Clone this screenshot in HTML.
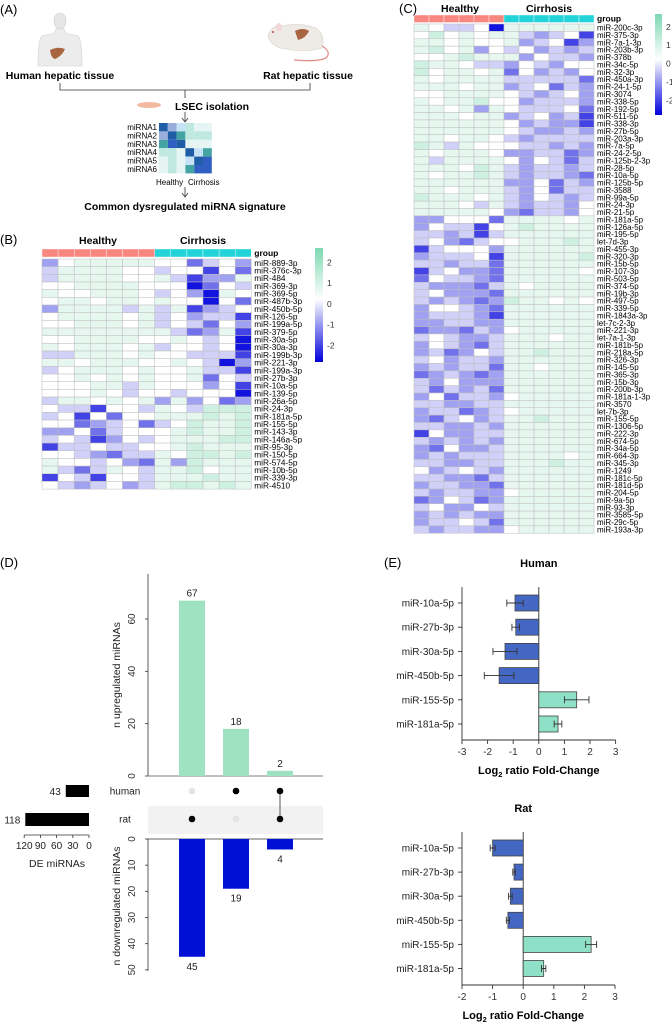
<!DOCTYPE html>
<html><head><meta charset="utf-8"><style>
html,body{margin:0;padding:0;background:#fff;}
svg{display:block;font-family:"Liberation Sans",Arial,sans-serif;}
</style></head><body>
<svg id="fig" width="672" height="1026" viewBox="0 0 672 1026" xmlns="http://www.w3.org/2000/svg">
<g>
<text x="0" y="14" font-size="13">(A)</text>
<g>
<ellipse cx="60" cy="21" rx="6" ry="8" fill="#e6e6e6" stroke="#cfcfcf" stroke-width="0.6"/>
<path d="M56 29 L64 29 L65 33 L78 36 Q82 40 82 66 L38 66 Q38 40 42 36 L55 33 Z" fill="#ececec" stroke="#cfcfcf" stroke-width="0.6"/>
<path d="M50 50 Q58 46 65 49 Q62 56 55 59 Q51 58 50 50 Z" fill="#a8653f"/>
</g>
<g>
<path d="M268 36 Q272 24 282 26 Q300 22 316 28 Q326 36 322 48 Q310 52 292 50 L280 48 Q270 44 268 36 Z" fill="#eeeae6" stroke="#d8d2cc" stroke-width="0.6"/>
<ellipse cx="279" cy="27" rx="3" ry="4" fill="#f4d8d8"/>
<circle cx="273" cy="32" r="1" fill="#c44"/>
<path d="M295 31 Q303 27 309 31 Q306 38 298 40 Z" fill="#a8653f"/>
<path d="M322 46 Q332 52 326 58 Q318 62 294 60" fill="none" stroke="#e0908a" stroke-width="1.3"/>
</g>
<text x="60" y="79" font-size="10.5" font-weight="bold" text-anchor="middle">Human hepatic tissue</text>
<text x="308" y="79" font-size="10.5" font-weight="bold" text-anchor="middle">Rat hepatic tissue</text>
<path d="M60 83 V90 H310 V83 M185 90 V98" fill="none" stroke="#333" stroke-width="0.8"/>
<ellipse cx="149" cy="105" rx="12" ry="3" fill="#f3b9a0"/>
<text x="175" y="110" font-size="10.5" font-weight="bold">LSEC isolation</text>
<path d="M185 112 V121 M182 118 L185 122 L188 118" fill="none" stroke="#333" stroke-width="0.8"/>
<g id="miniHeat"></g>
<text x="156" y="185" font-size="8">Healthy</text>
<text x="188" y="185" font-size="8">Cirrhosis</text>
<path d="M185 187 V196 M182 193 L185 197 L188 193" fill="none" stroke="#333" stroke-width="0.8"/>
<text x="185" y="210" font-size="10.5" font-weight="bold" text-anchor="middle">Common dysregulated miRNA signature</text>
</g>
<g>
<text x="0" y="244" font-size="13">(B)</text>
<text x="98" y="244" font-size="10.5" font-weight="bold" text-anchor="middle">Healthy</text>
<text x="203" y="244" font-size="10.5" font-weight="bold" text-anchor="middle">Cirrhosis</text>
<g id="heatB"></g>
</g>
<g>
<text x="399" y="13" font-size="13">(C)</text>
<text x="460" y="12" font-size="10.5" font-weight="bold" text-anchor="middle">Healthy</text>
<text x="549" y="12" font-size="10.5" font-weight="bold" text-anchor="middle">Cirrhosis</text>
<g id="heatC"></g>
</g>
<g id="panelD">
<text x="0" y="567" font-size="13">(D)</text>
</g>
<g id="panelE">
<text x="384" y="567" font-size="13">(E)</text>
</g>
</svg>
<script>
// ---------- data ----------
const bRows = ["miR-889-3p","miR-376c-3p","miR-484","miR-369-3p","miR-369-5p","miR-487b-3p","miR-450b-5p","miR-126-5p","miR-199a-5p","miR-379-5p","miR-30a-5p","miR-30a-3p","miR-199b-3p","miR-221-3p","miR-199a-3p","miR-27b-3p","miR-10a-5p","miR-139-5p","miR-26a-5p","miR-24-3p","miR-181a-5p","miR-155-5p","miR-143-3p","miR-146a-5p","miR-95-3p","miR-150-5p","miR-574-5p","miR-10b-5p","miR-339-3p","miR-4510"];
// encoded z-scores: value = (digit-5)*0.5
const bVals = ["3566666552453","4666655455152","4666655641336","5566665550254","6556665453065","5665665655052","3666646461345","5666656453441","5566656454253","6666666642361","5566665565450","6566656455450","4466656554441","6656665565403","4566656556441","5565656556254","5556646555351","5556545545550","4665656363523","5441554654777","4515255666767","5523452457667","3352455567667","4541354566677","1445445567666","5543244657767","6554532637666","6424654667566","1541554666766","5434534677676"];
const cRows = ["miR-200c-3p","miR-375-3p","miR-7a-1-3p","miR-203b-3p","miR-378b","miR-34c-5p","miR-32-3p","miR-450a-3p","miR-24-1-5p","miR-3074","miR-338-5p","miR-192-5p","miR-511-5p","miR-338-3p","miR-27b-5p","miR-203a-3p","miR-7a-5p","miR-24-2-5p","miR-125b-2-3p","miR-28-5p","miR-10a-5p","miR-125b-5p","miR-3588","miR-99a-5p","miR-24-3p","miR-21-5p","miR-181a-5p","miR-126a-5p","miR-195-5p","let-7d-3p","miR-455-3p","miR-320-3p","miR-15b-5p","miR-107-3p","miR-503-5p","miR-374-5p","miR-19b-3p","miR-497-5p","miR-339-5p","miR-1843a-3p","let-7c-2-3p","miR-221-3p","let-7a-1-3p","miR-181b-5p","miR-218a-5p","miR-326-3p","miR-145-5p","miR-365-3p","miR-15b-3p","miR-200b-3p","miR-181a-1-3p","miR-3570","let-7b-3p","miR-155-5p","miR-1306-5p","miR-222-3p","miR-674-5p","miR-34a-5p","miR-664-3p","miR-345-3p","miR-1249","miR-181c-5p","miR-181d-5p","miR-204-5p","miR-9a-5p","miR-93-3p","miR-3585-5p","miR-29c-5p","miR-193a-3p"];
const cVals = ["654450666666","575656643451","665655634513","675635453434","556766635443","766544354355","756656253435","656666444442","666566345243","556666543453","656675534443","665636544452","666566345341","666666534331","666666543343","665665434444","764655544343","656665334423","646666535424","666576434434","656676434432","666666335243","665666435244","766656435434","666546434435","666665324435","335552666656","354415676666","443414666666","453245566676","145553666666","344451666667","443442666666","145332666665","254432666666","433324656666","453332666666","434323766565","355432666666","344431666666","334433666666","233243566666","454334666566","354324666666","342354667666","453443666666","343442665666","234323666666","435333666666","424342666666","352443566666","443344666666","344234566666","324534667666","443343666666","153344666666","434343666666","325334666666","343444666656","443344666766","534543666666","443324666666","344332666666","434433566666","235423666666","453354666666","343433666666","344542666666","434433566666"];
const cbTicks = [2,1,0,-1,-2];
// Panel D
const upCounts = [67,18,2];
const downCounts = [45,19,4];
const setNames = ["human","rat"];
const setSizes = [43,118];
const combos = [[0,1],[1,0],[1,1]]; // membership human, rat
const upTicks = [0,20,40,60];
const downTicks = [0,10,20,30,40,50];
const sizeTicks = [120,90,60,30,0];
// Panel E
const eCats = ["miR-10a-5p","miR-27b-3p","miR-30a-5p","miR-450b-5p","miR-155-5p","miR-181a-5p"];
const humanFC = [-0.93,-0.9,-1.32,-1.55,1.48,0.75];
const humanErr = [0.32,0.15,0.47,0.58,0.48,0.15];
const ratFC = [-1.0,-0.3,-0.42,-0.5,2.22,0.67];
const ratErr = [0.08,0.04,0.06,0.05,0.18,0.07];
const humanTicks = [-3,-2,-1,0,1,2,3];
const ratTicks = [-2,-1,0,1,2,3];

// ---------- helpers ----------
const NS = "http://www.w3.org/2000/svg";
function mk(parent, tag, attrs, text){
  const el = document.createElementNS(NS, tag);
  for (const k in attrs) el.setAttribute(k, attrs[k]);
  if (text !== undefined) el.textContent = text;
  parent.appendChild(el);
  return el;
}
function lerp(a,b,t){return Math.round(a+(b-a)*t);}
function heatColor(v){
  if (v >= 0){ const t = Math.min(v/2.7,1); return `rgb(${lerp(255,120,t)},${lerp(255,214,t)},${lerp(255,176,t)})`; }
  const t = Math.min(-v/2.7,1); return `rgb(${lerp(255,0,t)},${lerp(255,0,t)},${lerp(255,220,t)})`;
}
function dec(ch){ return (parseInt(ch,10)-5)*0.5; }

// ---------- mini schematic heatmap ----------
(function(){
  const g = document.getElementById('miniHeat');
  const x0=159,y0=123,w=8.8,h=8.4;
  const colorGrid = [
    ["#1f5ea6","#9aaede","#c6e2f6","#bfe8e0","#e6f5f3","#e6f5f3"],
    ["#9aaede","#1f5ea6","#44a4a4","#bfe8e0","#bfe8e0","#bfe8e0"],
    ["#44a4a4","#2f5fc0","#1f5ea6","#e6f5f3","#e6f5f3","#e6f5f3"],
    ["#bfe8e0","#bfe8e0","#e6f5f3","#1f5ea6","#c6e2f6","#44a4a4"],
    ["#e6f5f3","#bfe8e0","#e6f5f3","#c6e2f6","#1f5ea6","#2f5fc0"],
    ["#e6f5f3","#bfe8e0","#e6f5f3","#44a4a4","#2f5fc0","#2f5fc0"]];
  for (let r=0;r<6;r++){
    const t = mk(g,'text',{x:x0-2,y:y0+r*h+7,'font-size':8,'text-anchor':'end'},'miRNA'+(r+1));
    
    
    for (let c=0;c<6;c++){
      const rc = mk(g,'rect',{x:x0+c*w,y:y0+r*h,width:w,height:h,fill:colorGrid[r][c]});
      
      
    }
  }
})();

// ---------- heatmap builder ----------
function heatmap(gid, rows, vals, nH, x0, y0, cw, rh, barY, barH, cb){
  const g = document.getElementById(gid);
  const nC = vals[0].length;
  for (let c=0;c<nC;c++){
    const gb = mk(g,'rect',{x:x0+c*cw,y:barY,width:cw,height:barH,fill:c<nH?'#f8877f':'#22d3d8',stroke:'#ffffff','stroke-width':0.4});
    
    
  }
  const gl = mk(g,'text',{x:x0+nC*cw+3,y:barY+barH-1,'font-size':8.5,'font-weight':'bold'},'group');
  
  
  rows.forEach((name,r)=>{
    const s = vals[r];
    for (let c=0;c<nC;c++){
      const cell = mk(g,'rect',{x:x0+c*cw,y:y0+r*rh,width:cw,height:rh,fill:heatColor(dec(s[c])),stroke:'#bdbdbd','stroke-width':0.5});
      
      
    }
    const t = mk(g,'text',{x:x0+nC*cw+3,y:y0+r*rh+rh-0.8,'font-size':rh+0.6},name);
    
    
  });
  const defs = mk(g,'defs',{});
  const lg = mk(defs,'linearGradient',{id:gid+'grad',x1:0,y1:0,x2:0,y2:1});
  [[0,2.6],[0.45,0],[1,-2.8]].forEach(([o,v])=>mk(lg,'stop',{offset:o,'stop-color':heatColor(v)}));
  const cbr = mk(g,'rect',{x:cb.x,y:cb.y0,width:cb.w,height:cb.y1-cb.y0,fill:`url(#${gid}grad)`});
  
  
  const vTop=2.7, vBot=-2.8;
  cbTicks.forEach(v=>{
    const y = cb.y0 + (vTop - v)/(vTop - vBot)*(cb.y1-cb.y0);
    const t = mk(g,'text',{x:cb.x+cb.w+4,y:y+3,'font-size':8.5,fill:'#333'},String(v));
    
    
  });
}
heatmap('heatB', bRows, bVals, 7, 42, 259, 16.1, 7.67, 249, 8, {x:315,y0:248,y1:362,w:8});
heatmap('heatC', cRows, cVals, 6, 414, 24, 15.0, 7.38, 15, 7.5, {x:655,y0:14,y1:115,w:7});

// ---------- Panel D: UpSet ----------
(function(){
  const g = document.getElementById('panelD');
  const axX = 148, upZero = 776, downZero = 839, ppu = 2.617, xEnd = 323;
  const barCx = [192,236,280], bw = 26;
  const upY = v => upZero - v*ppu;
  const downY = v => downZero + v*ppu;
  const a1 = mk(g,'line',{x1:axX,y1:574,x2:axX,y2:upZero,stroke:'#333','stroke-width':0.8});
   
  const a2 = mk(g,'line',{x1:axX,y1:upZero,x2:xEnd,y2:upZero,stroke:'#555','stroke-width':0.8});
   
  upTicks.forEach(v=>{
    const tk = mk(g,'line',{x1:axX-3,y1:upY(v),x2:axX,y2:upY(v),stroke:'#333','stroke-width':0.8});
     
    const t = mk(g,'text',{x:0,y:0,'font-size':10,'text-anchor':'middle',fill:'#333',transform:`translate(${axX-13},${upY(v)}) rotate(-90)`},String(v));
     
  });
  const yt = mk(g,'text',{x:0,y:0,'font-size':10.5,'text-anchor':'middle',fill:'#222',transform:`translate(120,675) rotate(-90)`},'n upregulated miRNAs');
   
  upCounts.forEach((v,i)=>{
    const b = mk(g,'rect',{x:barCx[i]-bw/2,y:upY(v),width:bw,height:v*ppu,fill:'#9ee2c2'});
     
    const t = mk(g,'text',{x:barCx[i],y:upY(v)-4,'font-size':10,'text-anchor':'middle',fill:'#222'},String(v));
     
  });
  const rowY = [791,819];
  const bg = mk(g,'rect',{x:axX,y:806,width:xEnd-axX,height:28,fill:'#f2f2f2'});
   
  setNames.forEach((n,j)=>{
    const t = mk(g,'text',{x:125,y:rowY[j]+3.5,'font-size':10,'text-anchor':'middle',fill:'#222'},n);
     
  });
  combos.forEach((m,i)=>{
    const ys=[];
    m.forEach((on,j)=>{ if(on) ys.push(rowY[j]); });
    if (ys.length>1){
      const ln = mk(g,'line',{x1:barCx[i],y1:Math.min(...ys),x2:barCx[i],y2:Math.max(...ys),stroke:'#555','stroke-width':1});
       
    }
    m.forEach((on,j)=>{
      const d = mk(g,'circle',{cx:barCx[i],cy:rowY[j],r:3.3,fill:on?'#000':'#e4e4e4'});
       
    });
  });
  const sx0 = 89, spu = 0.54;
  const barYs = [[785,12],[813,13]];
  setSizes.forEach((v,j)=>{
    const b = mk(g,'rect',{x:sx0-v*spu,y:barYs[j][0],width:v*spu,height:barYs[j][1],fill:'#000'});
     
    const t = mk(g,'text',{x:sx0-v*spu-5,y:barYs[j][0]+barYs[j][1]/2+4,'font-size':10,'text-anchor':'end',fill:'#222'},String(v));
     
  });
  const sa = mk(g,'line',{x1:sx0-120*spu,y1:835,x2:sx0,y2:835,stroke:'#333','stroke-width':0.8});
   
  sizeTicks.forEach(v=>{
    const x = sx0 - v*spu;
    const tk = mk(g,'line',{x1:x,y1:835,x2:x,y2:838,stroke:'#333','stroke-width':0.8});
     
    const t = mk(g,'text',{x:x,y:849,'font-size':10,'text-anchor':'middle',fill:'#222'},String(v));
     
  });
  const st = mk(g,'text',{x:57,y:867,'font-size':10.5,'text-anchor':'middle',fill:'#222'},'DE miRNAs');
   
  const d1 = mk(g,'line',{x1:axX,y1:downZero,x2:xEnd,y2:downZero,stroke:'#333','stroke-width':0.8});
   
  const d2 = mk(g,'line',{x1:axX,y1:downZero,x2:axX,y2:downY(50)+1,stroke:'#333','stroke-width':0.8});
   
  downTicks.forEach(v=>{
    const tk = mk(g,'line',{x1:axX-3,y1:downY(v),x2:axX,y2:downY(v),stroke:'#333','stroke-width':0.8});
     
    const t = mk(g,'text',{x:0,y:0,'font-size':10,'text-anchor':'middle',fill:'#333',transform:`translate(${axX-13},${downY(v)}) rotate(-90)`},String(v));
     
  });
  const dt = mk(g,'text',{x:0,y:0,'font-size':10.5,'text-anchor':'middle',fill:'#222',transform:`translate(120,906) rotate(-90)`},'n downregulated miRNAs');
   
  downCounts.forEach((v,i)=>{
    const b = mk(g,'rect',{x:barCx[i]-bw/2,y:downZero,width:bw,height:v*ppu,fill:'#0010d4'});
     
    const t = mk(g,'text',{x:barCx[i],y:downY(v)+13,'font-size':10,'text-anchor':'middle',fill:'#222'},String(v));
     
  });
})();

// ---------- Panel E ----------
function fcChart(title, vals, errs, ticks, cfg){
  const g = document.getElementById('panelE');
  const xs = v => cfg.x0 + (v - ticks[0]) * cfg.ppu;
  const tt = mk(g,'text',{x:xs(0),y:cfg.titleY,'font-size':11,'font-weight':'bold','text-anchor':'middle'},title);
   
  const ya = mk(g,'line',{x1:cfg.x0,y1:cfg.top,x2:cfg.x0,y2:cfg.bottom,stroke:'#333','stroke-width':0.9});
   
  const xa = mk(g,'line',{x1:cfg.x0,y1:cfg.bottom,x2:xs(ticks[ticks.length-1]),y2:cfg.bottom,stroke:'#333','stroke-width':0.9});
   
  const zl = mk(g,'line',{x1:xs(0),y1:cfg.top,x2:xs(0),y2:cfg.bottom,stroke:'#333','stroke-width':0.9});
   
  ticks.forEach(v=>{
    const tk = mk(g,'line',{x1:xs(v),y1:cfg.bottom,x2:xs(v),y2:cfg.bottom+4,stroke:'#333','stroke-width':0.9});
     
    const t = mk(g,'text',{x:xs(v),y:cfg.bottom+15,'font-size':10,'text-anchor':'middle',fill:'#333'},String(v));
     
  });
  const xt = mk(g,'text',{x:xs(0),y:cfg.bottom+34,'font-size':11,'font-weight':'bold','text-anchor':'middle'});
   
  xt.innerHTML = 'Log<tspan font-size="7.5" dy="3">2</tspan><tspan dy="-3"> ratio Fold-Change</tspan>';
  eCats.forEach((c,i)=>{
    const cy = cfg.cy0 + i*cfg.step;
    const tk = mk(g,'line',{x1:cfg.x0-4,y1:cy,x2:cfg.x0,y2:cy,stroke:'#333','stroke-width':0.9});
     
    const t = mk(g,'text',{x:cfg.x0-8,y:cy+3.5,'font-size':10,'text-anchor':'end',fill:'#222'},c);
     
    const v = vals[i];
    const b = mk(g,'rect',{x:Math.min(xs(0),xs(v)),y:cy-8,width:Math.abs(xs(v)-xs(0)),height:16,fill:v<0?'#4567c4':'#8ee0c6',stroke:'#444','stroke-width':0.8});
     
    const e = errs[i];
    const eb = mk(g,'path',{d:`M${xs(v-e)} ${cy} H${xs(v+e)} M${xs(v-e)} ${cy-3.5} V${cy+3.5} M${xs(v+e)} ${cy-3.5} V${cy+3.5}`,stroke:'#333','stroke-width':0.9,fill:'none'});
     
  });
}
fcChart('Human', humanFC, humanErr, humanTicks, {x0:462, ppu:25.6, top:587, bottom:740, cy0:603, step:24.2, titleY:567});
fcChart('Rat', ratFC, ratErr, ratTicks, {x0:462, ppu:30.6, top:832, bottom:985, cy0:848, step:24.1, titleY:812});
</script>
</body></html>
